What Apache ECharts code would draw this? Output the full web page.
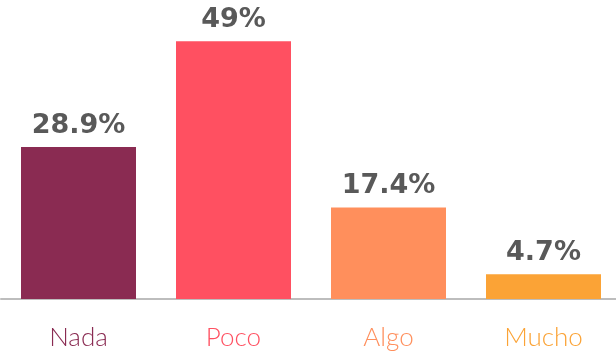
<!DOCTYPE html>
<html>
<head>
<meta charset="utf-8">
<script src="https://cdn.jsdelivr.net/npm/echarts@6/dist/echarts.min.js"></script>
<style>
  html, body { margin: 0; padding: 0; background: #ffffff; overflow: hidden; }
  #chart { width: 622px; height: 351px; }
</style>
</head>
<body>
<div id="chart"></div>
<script>
// Response categories and their shares (%)
const categories = ['Nada', 'Poco', 'Algo', 'Mucho'];
const values = [28.9, 49, 17.4, 4.7];
const barColors = ['#8A2B52', '#FF5061', '#FF8F5C', '#FBA336'];

const chart = echarts.init(document.getElementById('chart'), null, { renderer: 'canvas' });

chart.setOption({
  animation: false,
  grid: { left: 1, width: 620, top: 36, height: 263, containLabel: false },
  xAxis: {
    type: 'category',
    data: categories,
    axisLine: { show: true, lineStyle: { color: '#BDBDBD', width: 2 } },
    axisTick: { show: false },
    axisLabel: {
      margin: 26,
      fontFamily: 'Lato',
      fontWeight: 300,
      fontSize: 26,
      color: function (v, i) { return barColors[i]; }
    }
  },
  yAxis: {
    type: 'value',
    min: 0,
    max: 50,
    show: false,
    splitLine: { show: false }
  },
  series: [{
    type: 'bar',
    barWidth: 115,
    data: values.map(function (v, i) {
      return { value: v, itemStyle: { color: barColors[i] } };
    }),
    label: {
      show: true,
      position: 'top',
      distance: 8,
      formatter: function (p) { return p.value + '%'; },
      fontFamily: 'DejaVu Sans',
      fontWeight: 'bold',
      fontSize: 27,
      color: '#595959'
    }
  }]
});
</script>
</body>
</html>
